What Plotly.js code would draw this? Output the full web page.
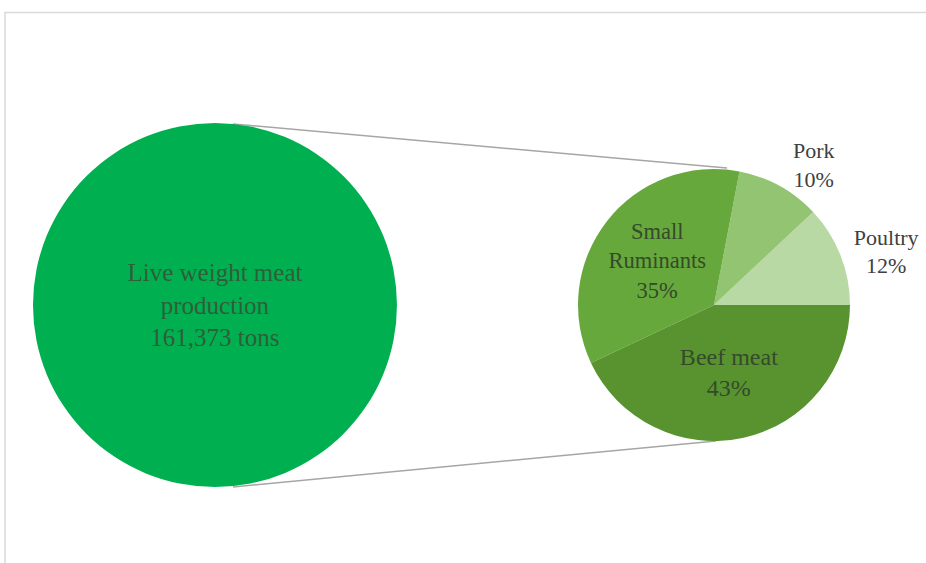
<!DOCTYPE html>
<html>
<head>
<meta charset="utf-8">
<script src="https://cdn.plot.ly/plotly-3.0.1.min.js"></script>
<style>html,body{margin:0;padding:0;background:#fff;}#chart{width:926px;height:563px;}</style>
</head>
<body>
<div id="chart"></div>
<script>
// Data
const totalLabel = ["Live weight meat<br>production<br>161,373 tons"];
const totalValue = [161373];
const categories = ["Poultry", "Pork", "Small<br>Ruminants", "Beef meat"];
const shares = [12, 10, 35, 43];

const sliceColors = ["#b8d8a4", "#92c472", "#66a83c", "#58932f"];
const textPos = ["outside", "outside", "inside", "inside"];

const serif = "Times New Roman, Liberation Serif, DejaVu Serif, serif";
const textFont = {family: serif, size: 22, color: "#404040"};

const traces = [
  {
    type: "pie",
    values: totalValue,
    labels: totalLabel,
    text: totalLabel,
    textinfo: "text",
    textposition: "inside",
    insidetextorientation: "horizontal",
    insidetextfont: {family: serif, size: 25, color: "#2e5e3a"},
    marker: {colors: ["#00b050"], line: {width: 0}},
    domain: {x: [0.0356, 0.4287], y: [0.135, 0.7815]},
    sort: false,
    hoverinfo: "skip",
    showlegend: false
  },
  {
    type: "pie",
    values: shares,
    labels: categories,
    texttemplate: "%{label}<br>%{value}%",
    textposition: textPos,
    insidetextorientation: "horizontal",
    textfont: textFont,
    insidetextfont: {family: serif, size: 24, color: "#354a2a"},
    outsidetextfont: textFont,
    marker: {colors: sliceColors, line: {width: 0}},
    domain: {x: [0.6242, 0.9179], y: [0.2167, 0.6998]},
    sort: false,
    direction: "counterclockwise",
    rotation: 46.8,
    hoverinfo: "skip",
    showlegend: false
  }
];

const layout = {
  width: 926,
  height: 563,
  margin: {l: 0, r: 0, t: 0, b: 0},
  paper_bgcolor: "#ffffff",
  showlegend: false,
  font: {family: serif},
  shapes: [
    {type: "rect", xref: "paper", yref: "paper", x0: 5/926, x1: 1.01, y0: -0.01, y1: 1 - 12.5/563,
     line: {color: "#d9d9d9", width: 1.5}, fillcolor: "rgba(0,0,0,0)", layer: "below"},
    {type: "line", xref: "paper", yref: "paper", x0: 233/926, y0: 1 - 124/563, x1: 727/926, y1: 1 - 168/563,
     line: {color: "#a6a6a6", width: 1.5}, layer: "below"},
    {type: "line", xref: "paper", yref: "paper", x0: 233/926, y0: 1 - 487/563, x1: 716/926, y1: 1 - 441/563,
     line: {color: "#a6a6a6", width: 1.5}, layer: "below"}
  ]
};

Plotly.newPlot("chart", traces, layout, {displayModeBar: false, staticPlot: true});
</script>
</body>
</html>
